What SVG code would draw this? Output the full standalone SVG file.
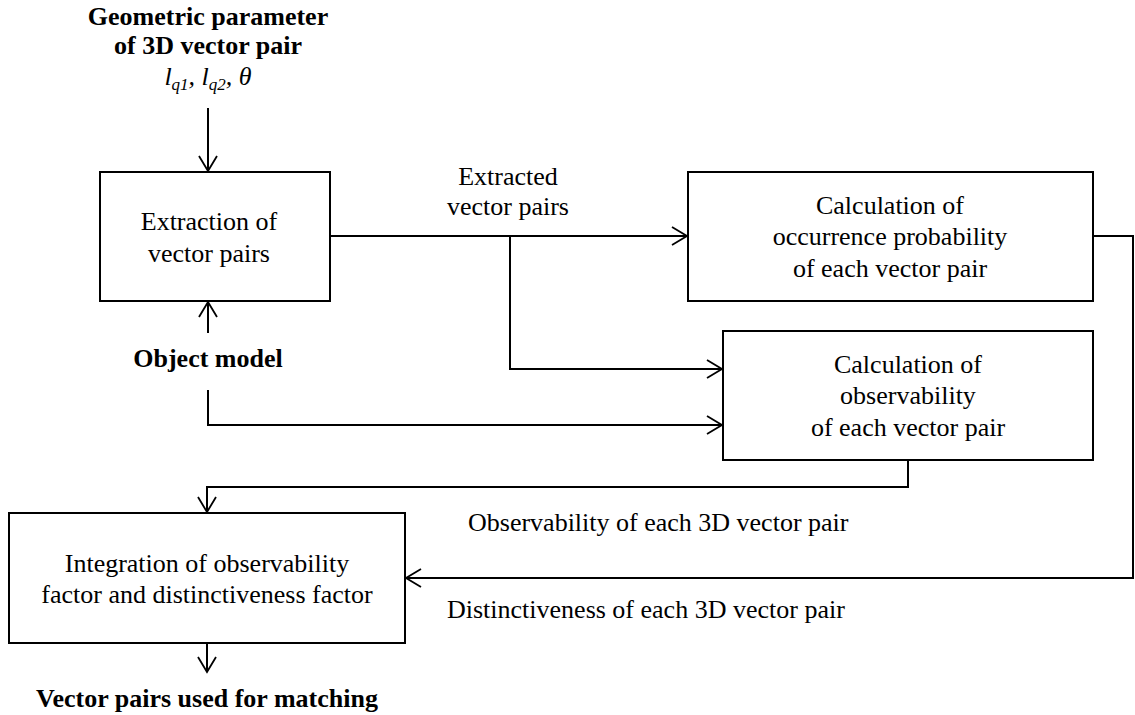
<svg xmlns="http://www.w3.org/2000/svg" width="1135" height="715" viewBox="0 0 1135 715">
<defs>
<marker id="arr" viewBox="0 0 20 20" refX="18" refY="10" markerWidth="20" markerHeight="20" markerUnits="userSpaceOnUse" orient="auto">
<path d="M3,1 L18,10 L3,19" fill="none" stroke="#000" stroke-width="1.8"/>
</marker>
</defs>
<rect width="1135" height="715" fill="#fff"/>
<g id="connectors" fill="none" stroke="#000" stroke-width="2">
<path d="M208,108 V171" marker-end="url(#arr)"/>
<path d="M208,333 V302" marker-end="url(#arr)"/>
<path d="M330,236 H687" marker-end="url(#arr)"/>
<path d="M510,236 V369 H722" marker-end="url(#arr)"/>
<path d="M208,390 V425 H722" marker-end="url(#arr)"/>
<path d="M1093,236 H1133 V578 H406" marker-end="url(#arr)"/>
<path d="M908,460 V487 H207 V512" marker-end="url(#arr)"/>
<path d="M207,643 V672" marker-end="url(#arr)"/>
</g>
<g id="input-params">
<text x="208" y="25" font-family="Liberation Serif" font-size="26" font-weight="bold" text-anchor="middle">Geometric parameter</text>
<text x="208" y="54" font-family="Liberation Serif" font-size="26" font-weight="bold" text-anchor="middle">of 3D vector pair</text>
<text x="208" y="85" font-family="Liberation Serif" font-size="26" font-style="italic" text-anchor="middle">l<tspan font-size="17" dy="5">q1</tspan><tspan dy="-5">, l</tspan><tspan font-size="17" dy="5">q2</tspan><tspan dy="-5">, θ</tspan></text>
</g>
<g id="extraction">
<rect x="100" y="172" width="230" height="129" fill="#fff" stroke="#000" stroke-width="2"/>
<text x="209" y="230" font-family="Liberation Serif" font-size="26" text-anchor="middle">Extraction of</text>
<text x="209" y="262" font-family="Liberation Serif" font-size="26" text-anchor="middle">vector pairs</text>
</g>
<g id="object-model">
<text x="208" y="367" font-family="Liberation Serif" font-size="26" font-weight="bold" text-anchor="middle">Object model</text>
</g>
<g id="extracted-label">
<text x="508" y="185" font-family="Liberation Serif" font-size="26" text-anchor="middle">Extracted</text>
<text x="508" y="215" font-family="Liberation Serif" font-size="26" text-anchor="middle">vector pairs</text>
</g>
<g id="occurrence">
<rect x="688" y="172" width="405" height="129" fill="#fff" stroke="#000" stroke-width="2"/>
<text x="890" y="214" font-family="Liberation Serif" font-size="26" text-anchor="middle">Calculation of</text>
<text x="890" y="245" font-family="Liberation Serif" font-size="26" text-anchor="middle">occurrence probability</text>
<text x="890" y="277" font-family="Liberation Serif" font-size="26" text-anchor="middle">of each vector pair</text>
</g>
<g id="observability">
<rect x="723" y="331" width="370" height="129" fill="#fff" stroke="#000" stroke-width="2"/>
<text x="908" y="373" font-family="Liberation Serif" font-size="26" text-anchor="middle">Calculation of</text>
<text x="908" y="404" font-family="Liberation Serif" font-size="26" text-anchor="middle">observability</text>
<text x="908" y="436" font-family="Liberation Serif" font-size="26" text-anchor="middle">of each vector pair</text>
</g>
<g id="obs-label">
<text x="468" y="531" font-family="Liberation Serif" font-size="26">Observability of each 3D vector pair</text>
</g>
<g id="dist-label">
<text x="447" y="618" font-family="Liberation Serif" font-size="26">Distinctiveness of each 3D vector pair</text>
</g>
<g id="integration">
<rect x="9" y="513" width="396" height="130" fill="#fff" stroke="#000" stroke-width="2"/>
<text x="207" y="572" font-family="Liberation Serif" font-size="26" text-anchor="middle">Integration of observability</text>
<text x="207" y="603" font-family="Liberation Serif" font-size="26" text-anchor="middle">factor and distinctiveness factor</text>
</g>
<g id="output">
<text x="207" y="707" font-family="Liberation Serif" font-size="26" font-weight="bold" text-anchor="middle">Vector pairs used for matching</text>
</g>
</svg>
